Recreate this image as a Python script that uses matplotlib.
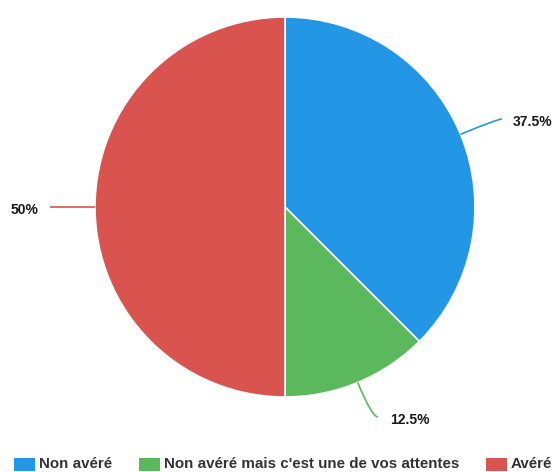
import matplotlib.pyplot as plt
import numpy as np
from matplotlib.path import Path
from matplotlib.patches import PathPatch, Rectangle

W, H = 556, 472

labels = ["Non avéré", "Non avéré mais c'est une de vos attentes", "Avéré"]
values = [37.5, 12.5, 50.0]
colors = ["#2496e6", "#5cb85c", "#d9534f"]

# where each value label ends up (pixel coords, y down)
label_ends = [(502, 119), (378, 417), (50, 207)]
label_text = [(513, 122, "left"), (390, 420, "left"), (38, 210, "right")]

plt.rcParams["font.family"] = ["Liberation Sans", "DejaVu Sans"]

fig = plt.figure(figsize=(W / 100, H / 100), dpi=100)
ax = fig.add_axes([0, 0, 1, 1])

cx, cy, r = 285, H - 207, 190
wedges, _ = ax.pie(
    values,
    colors=colors,
    startangle=90,
    counterclock=False,
    center=(cx, cy),
    radius=r,
    frame=True,
    wedgeprops=dict(edgecolor="white", linewidth=1.2),
)
ax.set_xlim(0, W)
ax.set_ylim(0, H)
ax.set_aspect("equal")
ax.axis("off")

for w, val, col, end, (tx, ty, ha) in zip(wedges, values, colors, label_ends, label_text):
    mid = np.deg2rad((w.theta1 + w.theta2) / 2)
    sx, sy = cx + r * np.cos(mid), cy + r * np.sin(mid)
    ex, ey = end[0], H - end[1]
    # bend: go out radially, then flatten horizontally into the label
    if abs(np.sin(mid)) < 1e-6:
        ctrl = ((sx + ex) / 2, ey)
    else:
        t = (ey - sy) / np.sin(mid)
        ctrl = (sx + t * np.cos(mid), ey)
    path = Path([(sx, sy), ctrl, (ex, ey)], [Path.MOVETO, Path.CURVE3, Path.CURVE3])
    ax.add_patch(PathPatch(path, fill=False, edgecolor=col, lw=1.2))
    ax.text(tx, H - ty, f"{val:g}%", ha=ha, va="center", fontsize=10,
            fontweight="bold", color="#1a1a1a")

# legend along the bottom
leg_x = [14, 139, 486]
for x, lab, col in zip(leg_x, labels, colors):
    ax.add_patch(Rectangle((x, H - 471), 21, 13, facecolor=col, edgecolor="none"))
    ax.text(x + 25, H - 464, lab, ha="left", va="center", fontsize=10.9,
            fontweight="bold", color="#333333")

fig.savefig("out.png", dpi=100)
